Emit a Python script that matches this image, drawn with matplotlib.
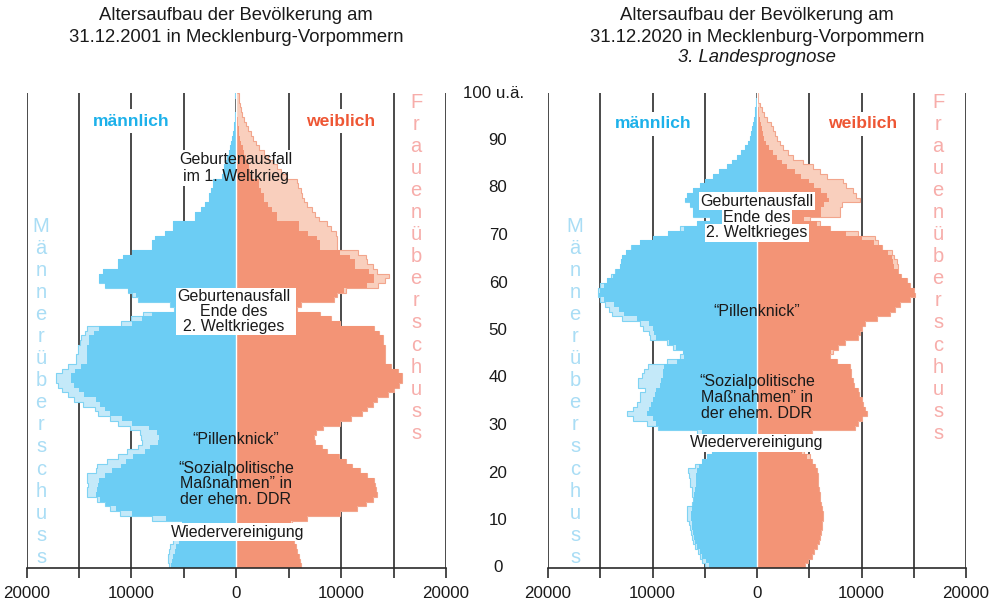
import numpy as np
import matplotlib
matplotlib.use("Agg")
import matplotlib.pyplot as plt
from matplotlib.patches import Rectangle

plt.rcParams['font.family'] = ['Liberation Sans', 'DejaVu Sans']

# ---------------- data (ages 0..99, last = "100 u.ä.") ----------------
ages = np.arange(0, 101)  # bin edges

M2001 = [6400, 6500, 6500, 6400, 6300, 6000, 5900, 5100, 5100, 5200,
         8000, 11100, 12000, 12500, 13300, 14200, 14200, 14100, 14200, 14200,
         13400, 13300, 12300, 11300, 10400, 9400, 9000, 9100, 9200, 10100,
         11300, 12000, 13200, 13500, 14600, 15500, 16000, 16600, 17000, 17200,
         17200, 16600, 16000, 15300, 15300, 15100, 15100, 14900, 14800, 14400,
         14200, 11000, 10000, 8900, 5900, 6300, 9400, 9900, 10300, 12500,
         13100, 13100, 12700, 11300, 11300, 10800, 9900, 8000, 8000, 7700,
         6800, 6000, 6000, 3900, 3900, 3400, 3000, 2600, 2600, 2400,
         2200, 2200, 1400, 1300, 1200, 1100, 900, 700, 600, 500,
         400, 300, 250, 200, 150, 100, 60, 40, 20, 100]

F2001 = [6200, 6100, 6000, 5800, 5700, 5500, 5400, 5200, 5100, 5300,
         6700, 9900, 11500, 12400, 13000, 13400, 13300, 13200, 13100, 12500,
         11800, 11000, 10500, 9800, 8700, 8200, 7500, 7400, 7600, 8300,
         9900, 10900, 12000, 12500, 13000, 13400, 14500, 15000, 15500, 15800,
         15800, 15400, 14800, 14200, 14200, 14200, 14200, 14000, 14000, 13600,
         13100, 9900, 9000, 8000, 5800, 6200, 9300, 9600, 10500, 13500,
         14200, 14600, 13400, 13000, 12500, 12400, 11600, 9600, 9600, 9600,
         9500, 9000, 8700, 7900, 7500, 7200, 6700, 6500, 6300, 6200,
         5900, 5800, 4800, 4300, 3900, 3500, 3000, 2600, 2200, 1900,
         1600, 1400, 1150, 950, 750, 550, 450, 350, 250, 300]

M2020 = [5000, 5300, 5500, 5650, 5900, 6100, 6200, 6300, 6400, 6500,
         6700, 6700, 6700, 6200, 6150, 6200, 6250, 6400, 6450, 6500,
         6600, 5900, 5300, 4800, 4300, 4200, 4800, 5300, 5700, 9500,
         10500, 11900, 12400, 11900, 11500, 11200, 11200, 10700, 11400, 11400,
         11000, 10800, 10400, 8600, 7400, 7100, 8000, 8600, 10200, 10300,
         10900, 11200, 12900, 13900, 14200, 14500, 15000, 15200, 15200, 15000,
         14400, 14000, 13600, 13100, 13000, 12900, 12500, 12100, 11200, 10000,
         8500, 7400, 5700, 4500, 6100, 6100, 6400, 6900, 6700, 6100,
         5500, 5000, 4200, 3600, 2900, 2400, 1900, 1500, 1150, 900,
         700, 550, 450, 350, 280, 220, 180, 120, 80, 40]

F2020 = [4600, 4900, 5260, 5500, 5740, 5900, 6030, 6100, 6220, 6250,
         6320, 6300, 6220, 6150, 6050, 6030, 5950, 5840, 5840, 5840,
         5700, 5550, 5300, 5070, 4500, 4120, 4400, 4600, 5260, 9380,
         9700, 10000, 10530, 10300, 10100, 10000, 9800, 9670, 9300, 9190,
         9000, 9000, 8900, 7650, 6990, 7300, 7750, 8420, 9670, 9860,
         10000, 10330, 11480, 12730, 13200, 13680, 14640, 15120, 15000, 14640,
         14350, 13800, 13500, 13450, 13400, 13100, 12920, 11960, 11600, 11290,
         9660, 6990, 6000, 5070, 7940, 7940, 8130, 9860, 9500, 9190,
         8500, 8230, 6700, 6000, 5360, 4400, 3450, 3000, 2520, 2200,
         1900, 1700, 1560, 1300, 1000, 700, 450, 300, 100, 60]

age_ticks = [0, 10, 20, 30, 40, 50, 60, 70, 80, 90, 100]
age_labels = ["0", "10", "20", "30", "40", "50", "60", "70", "80", "90", "100 u.ä."]
x_ticks = [-20000, -15000, -10000, -5000, 0, 5000, 10000, 15000, 20000]
x_labels = {-20000: "20000", -10000: "10000", 0: "0", 10000: "10000", 20000: "20000"}

# ---------------- styling ----------------
C_M = '#6ccdf4'
C_ML = '#c4e9f9'
C_ML_EDGE = '#7fd3f3'
C_F = '#f39476'
C_FL = '#f9cfbd'
C_FL_EDGE = '#f2a58c'
C_LBL_M = '#1db1ea'
C_LBL_F = '#ee5634'
C_V_M = '#a9ddf5'
C_V_F = '#f7adaa'

W, H = 999, 608
fig = plt.figure(figsize=(W / 100, H / 100), dpi=100)

Y0, Y100 = 568, 93  # pixel rows of age 0 and age 100


def add_panel(xl, xr, M, F):
    ax = fig.add_axes([xl / W, 1 - Y0 / H, (xr - xl) / W, (Y0 - Y100) / H])
    ax.set_xlim(-20000, 20000)
    ax.set_ylim(0, 100)
    ax.axis('off')
    M = np.asarray(M, float)
    F = np.asarray(F, float)
    mn = np.minimum(M, F)
    for xv in x_ticks:
        ax.plot([xv, xv], [0, 100], color='#2b2b2b', lw=1.2, zorder=1,
                solid_capstyle='butt')
    ax.plot([-20000, 20000], [0, 0], color='#2b2b2b', lw=1.2, zorder=6,
            clip_on=False)
    for xv in x_ticks:
        ax.plot([xv, xv], [0, -2.0], color='#2b2b2b', lw=1.2, zorder=6,
                clip_on=False, solid_capstyle='butt')
        if xv in x_labels:
            ax.text(xv, -5.3, x_labels[xv], ha='center', va='center',
                    fontsize=12.2, color='#1a1a1a', clip_on=False)
    # male
    ax.stairs(-np.maximum(M, mn), ages, baseline=-mn, orientation='horizontal',
              fill=True, color=C_ML, zorder=3, lw=0)
    ax.stairs(-M, ages, baseline=0, orientation='horizontal', fill=False,
              color=C_ML_EDGE, lw=0.8, zorder=3.2)
    ax.stairs(-mn, ages, baseline=0, orientation='horizontal', fill=True,
              color=C_M, zorder=3.5, lw=0)
    # female
    ax.stairs(np.maximum(F, mn), ages, baseline=mn, orientation='horizontal',
              fill=True, color=C_FL, zorder=3, lw=0)
    ax.stairs(F, ages, baseline=0, orientation='horizontal', fill=False,
              color=C_FL_EDGE, lw=0.8, zorder=3.2)
    ax.stairs(mn, ages, baseline=0, orientation='horizontal', fill=True,
              color=C_F, zorder=3.5, lw=0)
    ax.plot([0, 0], [0, 100], color='white', lw=1.0, zorder=4)
    return ax


axL = add_panel(26.5, 446, M2001, F2001)
axR = add_panel(548, 966, M2020, F2020)


def px2data(ax, px, py):
    inv = ax.transData.inverted()
    return inv.transform((px, H - py))


def white_rect(ax, px0, py0, px1, py1, z):
    x0, y0 = px2data(ax, px0, py1)
    x1, y1 = px2data(ax, px1, py0)
    ax.add_patch(Rectangle((x0, y0), x1 - x0, y1 - y0, fc='white', ec='none',
                           zorder=z, clip_on=False))


def label(ax, px, py, s, box=None, fs=11.5, color='#1a1a1a', weight='normal',
          style='normal', pad=1.5):
    x, y = px2data(ax, px, py)
    kw = dict(ha='center', va='center', fontsize=fs, fontweight=weight,
              fontstyle=style, clip_on=False)
    if box == 'under':
        ax.text(x, y, s, color=(1, 1, 1, 0), zorder=2,
                bbox=dict(fc='white', ec='none', pad=pad), **kw)
    elif box == 'over':
        ax.text(x, y, s, color=(1, 1, 1, 0), zorder=5,
                bbox=dict(fc='white', ec='none', pad=pad), **kw)
    ax.text(x, y, s, color=color, zorder=10, **kw)


fig.canvas.draw()

# ---- labels left panel ----
label(axL, 131, 121, 'männlich', box='under', fs=12.6, color=C_LBL_M, weight='bold', pad=3)
label(axL, 341, 121, 'weiblich', box='under', fs=12.6, color=C_LBL_F, weight='bold', pad=3)
label(axL, 236, 160, 'Geburtenausfall', box='under')
label(axL, 236, 176, 'im 1. Weltkrieg', box='under')
white_rect(axL, 176, 288, 296, 335, 5)
label(axL, 234, 296, 'Geburtenausfall')
label(axL, 234, 312, 'Ende des')
label(axL, 234, 327, '2. Weltkrieges')
label(axL, 236, 440, '\u201cPillenknick\u201d')
label(axL, 236, 468, '\u201cSozialpolitische')
label(axL, 236, 484, 'Maßnahmen\u201d in')
label(axL, 236, 500, 'der ehem. DDR')
label(axL, 238, 532, 'Wiedervereinigung', box='over', pad=1)

# ---- labels right panel ----
label(axR, 653, 124, 'männlich', box='under', fs=12.6, color=C_LBL_M, weight='bold', pad=3)
label(axR, 863, 124, 'weiblich', box='under', fs=12.6, color=C_LBL_F, weight='bold', pad=3)
label(axR, 757, 201, 'Geburtenausfall', box='over', pad=1)
label(axR, 757, 217, 'Ende des', box='over', pad=1)
label(axR, 757, 233, '2. Weltkrieges', box='over', pad=1)
label(axR, 757, 311, '\u201cPillenknick\u201d')
label(axR, 757, 381, '\u201cSozialpolitische')
label(axR, 757, 397, 'Maßnahmen\u201d in')
label(axR, 757, 413, 'der ehem. DDR')
label(axR, 757, 443, 'Wiedervereinigung', box='over', pad=1)


def vword(ax, px, py0, word, color, step=22.1):
    for i, ch in enumerate(word):
        x, y = px2data(ax, px, py0 + i * step)
        ax.text(x, y, ch, ha='center', va='center', fontsize=14.5,
                color=color, zorder=10, clip_on=False)

vword(axL, 41, 226, 'Männerüberschuss', C_V_M)
vword(axL, 416, 102, 'Frauenüberschuss', C_V_F)
vword(axR, 575, 226, 'Männerüberschuss', C_V_M)
vword(axR, 938, 102, 'Frauenüberschuss', C_V_F)

for a, lab in zip(age_ticks, age_labels):
    py = Y0 - a * (Y0 - Y100) / 100
    px = 494 if a == 100 else 498
    fig.text(px / W, 1 - py / H, lab, ha='center', va='center',
             fontsize=12.2, color='#1a1a1a')


def ftext(px, py, s, **kw):
    fig.text(px / W, 1 - py / H, s, ha='center', va='center',
             fontsize=13.3, color='#1a1a1a', **kw)

ftext(236, 15, 'Altersaufbau der Bevölkerung am')
ftext(236, 38, '31.12.2001 in Mecklenburg-Vorpommern')
ftext(757, 15, 'Altersaufbau der Bevölkerung am')
ftext(757, 38, '31.12.2020 in Mecklenburg-Vorpommern')
ftext(757, 58, '3. Landesprognose', style='italic')

fig.savefig('out.png', dpi=100, facecolor='white')
